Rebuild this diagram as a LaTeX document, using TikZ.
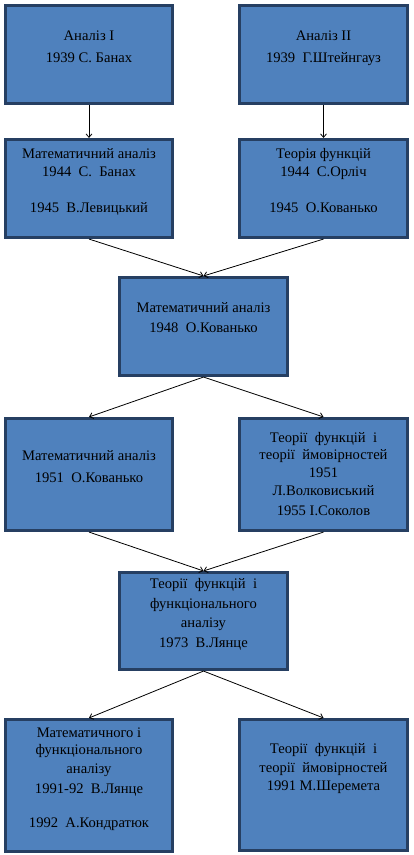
\documentclass[tikz,border=0pt]{standalone}
\usepackage{fontspec}
\setmainfont{Liberation Serif}
\newfontfamily\tnr{Liberation Serif}
\usetikzlibrary{arrows.meta}
\definecolor{boxfill}{RGB}{79,129,189}
\definecolor{boxline}{RGB}{38,63,98}
\newcommand{\btext}[3]{\parbox[c][#1][t]{#2}{\centering\tnr\fontsize{14.6}{19}\selectfont #3}}
\tikzset{
  box/.style={draw=boxline, fill=boxfill, line width=2.6pt, inner sep=0pt, rectangle},
  conn/.style={draw=black, line width=0.8pt, -{Straight Barb[length=3.5pt,width=6pt]}}
}
\begin{document}
\begin{tikzpicture}[x=1pt,y=-1pt]
\useasboundingbox (0,0) rectangle (413,855);
\node[box] (b1) at (89,54.5) {\btext{98.5pt}{167.5pt}{\rule{0pt}{35pt}Аналіз I\\[3pt]1939 С. Банах}};
\node[box] (b2) at (323.5,54.5) {\btext{98.5pt}{168.5pt}{\rule{0pt}{35pt}Аналіз II\\[3pt]1939~ Г.Штейнгауз}};
\node[box] (b3) at (89,188.5) {\btext{98.5pt}{167.5pt}{\rule{0pt}{19pt}Математичний аналіз\\[-0.5pt]1944~ С.~ Банах\\[17pt]1945~ В.Левицький}};
\node[box] (b4) at (323.5,188.5) {\btext{98.5pt}{168.5pt}{\rule{0pt}{19pt}Теорія функцій\\[-0.5pt]1944~ С.Орліч\\[17pt]1945~ О.Кованько}};
\node[box] (b5) at (203.5,326.5) {\btext{98.5pt}{168.5pt}{\rule{0pt}{35pt}Математичний аналіз\\[1pt]1948~ О.Кованько}};
\node[box] (b6) at (89,474.5) {\btext{112.5pt}{167.5pt}{\rule{0pt}{42pt}Математичний аналіз\\[3pt]1951~ О.Кованько}};
\node[box] (b7) at (323.5,474.5) {\btext{112.5pt}{168.5pt}{\rule{0pt}{24pt}Теорії~ функцій~ і\\[-2pt]теорії~ ймовірностей\\[-1pt]1951\\[-1pt]Л.Волковиський\\[1pt]1955 І.Соколов}};
\node[box] (b8) at (203.5,621) {\btext{97.5pt}{168.5pt}{\rule{0pt}{16pt}Теорії~ функцій~ і\\[1pt]функціонального\\[0pt]аналізу\\[1pt]1973~ В.Лянце}};
\node[box] (b9) at (89,785.5) {\btext{132.5pt}{167.5pt}{\rule{0pt}{18pt}Математичного і\\[-2pt]функціонального\\[0pt]аналізу\\[1pt]1991-92~ В.Лянце\\[15pt]1992~ А.Кондратюк}};
\node[box] (b10) at (323.5,785) {\btext{131.5pt}{168.5pt}{\rule{0pt}{34pt}Теорії~ функцій~ і\\[0pt]теорії~ ймовірностей\\[-1pt]1991 М.Шеремета}};
\draw[conn] (b1.south) -- (b3.north);
\draw[conn] (b2.south) -- (b4.north);
\draw[conn] (b3.south) -- (b5.north);
\draw[conn] (b4.south) -- (b5.north);
\draw[conn] (b5.south) -- (b6.north);
\draw[conn] (b5.south) -- (b7.north);
\draw[conn] (b6.south) -- (b8.north);
\draw[conn] (b7.south) -- (b8.north);
\draw[conn] (b8.south) -- (b9.north);
\draw[conn] (b8.south) -- (b10.north);
\end{tikzpicture}
\end{document}
